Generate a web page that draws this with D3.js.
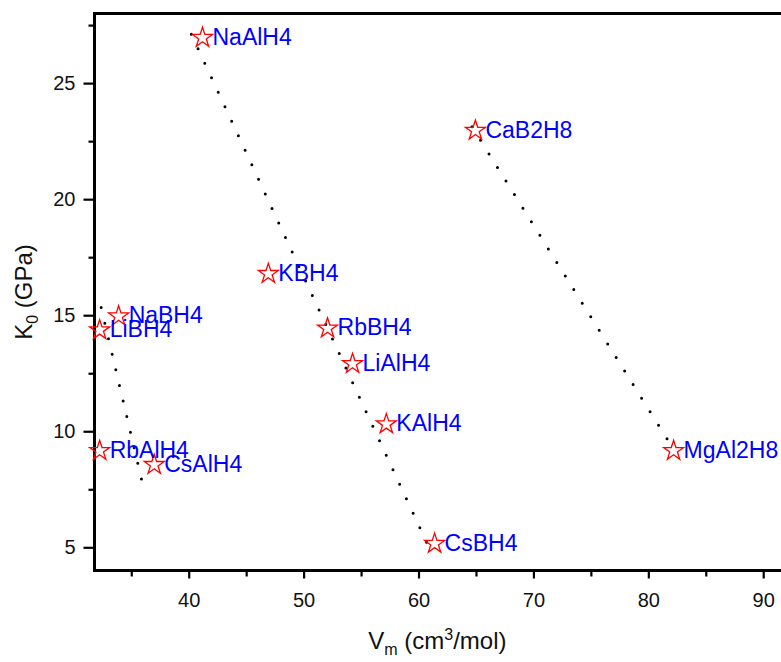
<!DOCTYPE html>
<html>
<head>
<meta charset="utf-8">
<script src="https://cdn.jsdelivr.net/npm/d3@7"></script>
<style>
  html, body { margin: 0; padding: 0; background: #fff; }
  svg { display: block; font-family: "Liberation Sans", Arial, sans-serif; }
</style>
</head>
<body>
<svg id="chart" width="781" height="662"></svg>
<script>
// ---- data ----
const compounds = ["NaAlH4", "CaB2H8", "KBH4", "NaBH4", "LiBH4", "RbBH4", "LiAlH4", "KAlH4", "RbAlH4", "CsAlH4", "CsBH4", "MgAl2H8"];
const molarVolume = [41.2, 64.95, 46.93, 33.9, 32.25, 52.08, 54.26, 57.2, 32.25, 37.0, 61.4, 82.2];
const bulkModulus = [27.0, 23.0, 16.83, 15.0, 14.4, 14.48, 12.95, 10.35, 9.2, 8.6, 5.2, 9.2];

// dotted trend lines (start / end)
const fitStartV = [40.23, 32.38, 64.66];
const fitStartK = [27.11, 15.33, 23.12];
const fitEndV = [60.89, 35.97, 82.16];
const fitEndK = [5.01, 7.77, 9.25];

const xMajorTicks = [40, 50, 60, 70, 80, 90];
const xMinorTicks = [35, 45, 55, 65, 75, 85];
const yMajorTicks = [5, 10, 15, 20, 25];
const yMinorTicks = [7.5, 12.5, 17.5, 22.5, 27.5];

// ---- layout ----
const svg = d3.select("#chart");
const mLeft = 94.5, mRight = 786.2, mTop = 13.5, mBottom = 570.5;

const x = d3.scaleLinear().domain([31.8, 92]).range([mLeft, mRight]);
const y = d3.scaleLinear().domain([4, 28]).range([mBottom, mTop]);

// frame (top and right)
svg.append("line").attr("x1", mLeft).attr("x2", mRight).attr("y1", mTop).attr("y2", mTop)
  .attr("stroke", "#000").attr("stroke-width", 3);
svg.append("line").attr("x1", mRight).attr("x2", mRight).attr("y1", mTop).attr("y2", mBottom)
  .attr("stroke", "#000").attr("stroke-width", 3);

// x axis
const gx = svg.append("g").attr("transform", `translate(0,${mBottom})`);
gx.call(d3.axisBottom(x).tickValues(xMinorTicks).tickSize(6).tickFormat(""));
gx.call(g => g.append("g").call(d3.axisBottom(x).tickValues(xMajorTicks).tickSize(8).tickPadding(14).tickFormat(d3.format("d"))));
gx.selectAll(".domain").remove();
gx.selectAll("line").attr("stroke", "#000").attr("stroke-width", 2.2);
gx.selectAll("text").attr("font-size", 20).attr("fill", "#111")
  .attr("font-family", "'Liberation Sans', Arial, sans-serif");

// y axis
const gy = svg.append("g").attr("transform", `translate(${mLeft},0)`);
gy.call(d3.axisLeft(y).tickValues(yMinorTicks).tickSize(6).tickFormat(""));
gy.call(g => g.append("g").call(d3.axisLeft(y).tickValues(yMajorTicks).tickSize(11).tickPadding(8).tickFormat(d3.format("d"))));
gy.selectAll(".domain").remove();
gy.selectAll("line").attr("stroke", "#000").attr("stroke-width", 2.2);
gy.selectAll("text").attr("font-size", 20).attr("fill", "#111")
  .attr("font-family", "'Liberation Sans', Arial, sans-serif");

// axis lines (thick)
svg.append("line").attr("x1", mLeft).attr("x2", mLeft).attr("y1", mTop - 1.5).attr("y2", mBottom + 1.5)
  .attr("stroke", "#000").attr("stroke-width", 3);
svg.append("line").attr("x1", mLeft - 1.5).attr("x2", mRight).attr("y1", mBottom).attr("y2", mBottom)
  .attr("stroke", "#000").attr("stroke-width", 3);

// dotted lines
const fits = fitStartV.map((v, i) => [[v, fitStartK[i]], [fitEndV[i], fitEndK[i]]]);
const lineGen = d3.line().x(d => x(d[0])).y(d => y(d[1]));
svg.append("g").selectAll("path").data(fits).join("path")
  .attr("d", lineGen)
  .attr("fill", "none")
  .attr("stroke", "#000")
  .attr("stroke-width", 3)
  .attr("stroke-linecap", "round")
  .attr("stroke-dasharray", "0 16");

// points
const pts = compounds.map((c, i) => ({ name: c, v: molarVolume[i], k: bulkModulus[i] }));
const star = d3.symbol().type(d3.symbolStar).size(10.5 * 10.5 / 0.8908130915292852);
const gp = svg.append("g");
gp.selectAll("path").data(pts).join("path")
  .attr("transform", d => `translate(${x(d.v)},${y(d.k) + 1})`)
  .attr("d", star)
  .attr("fill", "none")
  .attr("stroke", "#ff0000")
  .attr("stroke-width", 1.3);
gp.selectAll("text").data(pts).join("text")
  .attr("x", d => x(d.v) + 10)
  .attr("y", d => y(d.k) + 8)
  .attr("font-size", 23)
  .attr("fill", "#0000ff")
  .text(d => d.name);

// axis titles
const xt = svg.append("text")
  .attr("x", (mLeft + mRight) / 2 - 3)
  .attr("y", 649)
  .attr("text-anchor", "middle")
  .attr("font-size", 24)
  .attr("fill", "#111");
xt.append("tspan").text("V");
xt.append("tspan").attr("font-size", 16).attr("dy", 6).text("m");
xt.append("tspan").attr("dy", -6).text(" (cm");
xt.append("tspan").attr("font-size", 16).attr("dy", -9).text("3");
xt.append("tspan").attr("dy", 9).text("/mol)");

const yt = svg.append("text")
  .attr("transform", `translate(32,${(mTop + mBottom) / 2}) rotate(-90)`)
  .attr("text-anchor", "middle")
  .attr("font-size", 24)
  .attr("fill", "#111");
yt.append("tspan").text("K");
yt.append("tspan").attr("font-size", 16).attr("dy", 6).text("0");
yt.append("tspan").attr("dy", -6).text(" (GPa)");
</script>
</body>
</html>
